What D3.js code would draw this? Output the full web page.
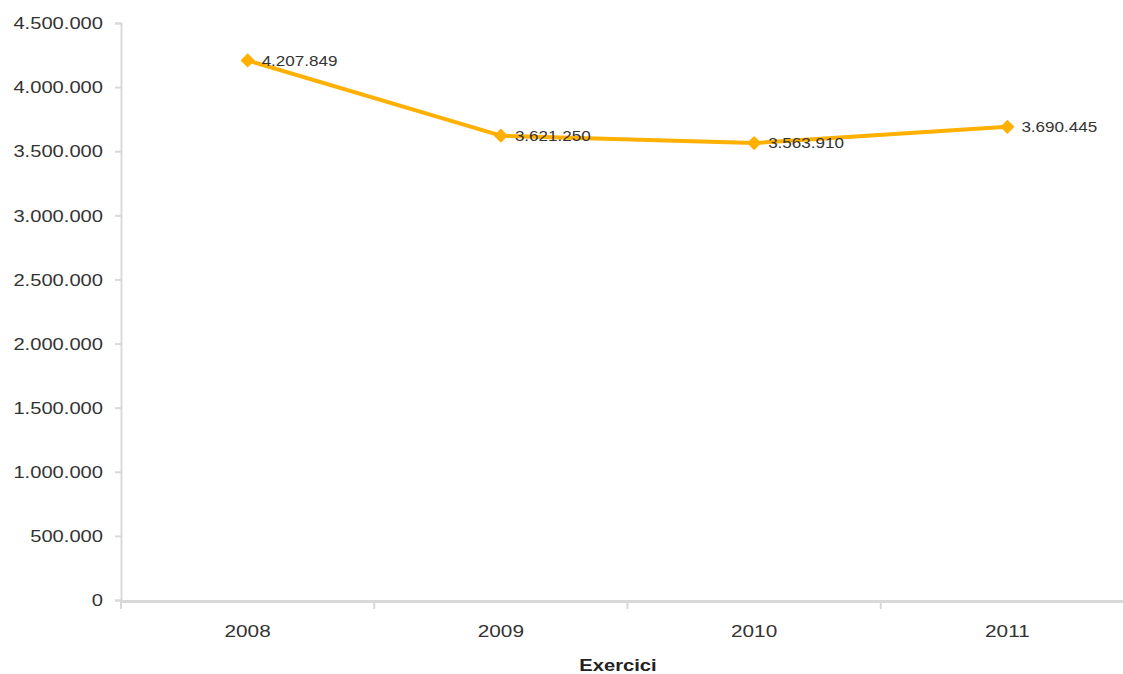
<!DOCTYPE html>
<html><head><meta charset="utf-8">
<script src="https://cdn.jsdelivr.net/npm/d3@7"></script>
<style>body{margin:0;background:#fff}svg{display:block}text{font-family:"Liberation Sans",Arial,sans-serif}</style>
</head><body><svg id="c" width="1123" height="674"></svg>
<script>
const categories = ["2008","2009","2010","2011"];
const values = [4207849, 3621250, 3563910, 3690445];
const yTicks = [0,500000,1000000,1500000,2000000,2500000,3000000,3500000,4000000,4500000];
const xTitle = "Exercici";

const SX = 1.26; // horizontal stretch of the reference text
const fmt = v => d3.format(",")(v).replace(/,/g, ".");
const svg = d3.select("#c");
const x = d3.scaleBand().domain(categories).range([121, 1134]);
const y = d3.scaleLinear().domain([0, 4500000]).range([600, 23]);
const axisCol = "#d9d9d9", textCol = "#333";

// y axis
const ya = svg.append("g").attr("transform","translate(121,0)")
  .call(d3.axisLeft(y).tickValues(yTicks).tickFormat(fmt).tickSize(6));
ya.select(".domain").attr("stroke", axisCol).attr("stroke-width", 2);
ya.selectAll(".tick line").attr("stroke", axisCol).attr("stroke-width", 2);
ya.selectAll(".tick text").attr("fill", textCol).style("font-size","16px")
  .attr("dy","0.36em").attr("x", -18/SX).attr("transform", `scale(${SX},1)`);

// x axis
const xa = svg.append("g").attr("transform","translate(0,601)")
  .call(d3.axisBottom(x).tickSize(0).tickPadding(24));
xa.select(".domain").attr("stroke", axisCol).attr("stroke-width", 3);
xa.selectAll(".tick text").attr("fill", textCol).style("font-size","16.5px")
  .attr("transform", `scale(${SX},1)`);
xa.selectAll(".sep").data(categories.map(c => x(c))).enter().append("line")
  .attr("x1", d=>d).attr("x2", d=>d).attr("y1", 0).attr("y2", 8)
  .attr("stroke", axisCol).attr("stroke-width", 2);

svg.append("text").attr("transform", `translate(618,671) scale(${SX},1)`).attr("text-anchor","middle")
  .attr("fill", "#222").style("font-size","16px").style("font-weight","bold").text(xTitle);

const col = "#FFB000";
const cx = (i) => x(categories[i]) + x.bandwidth()/2;
const line = d3.line().x((d,i)=>cx(i)).y(d=>y(d));
svg.append("path").datum(values).attr("d", line).attr("fill","none")
  .attr("stroke", col).attr("stroke-width", 4).attr("stroke-linejoin","round");
svg.selectAll(".m").data(values).enter().append("path")
  .attr("d", d3.symbol(d3.symbolDiamond2, 130)())
  .attr("transform",(d,i)=>`translate(${cx(i)},${y(d)})`)
  .attr("fill", col);
svg.selectAll(".lbl").data(values).enter().append("text")
  .attr("transform",(d,i)=>`translate(${cx(i) + 14},${y(d)}) scale(1.22,1)`)
  .attr("dy","0.36em")
  .attr("fill", textCol).style("font-size","14px").text(d=>fmt(d));
</script></body></html>
